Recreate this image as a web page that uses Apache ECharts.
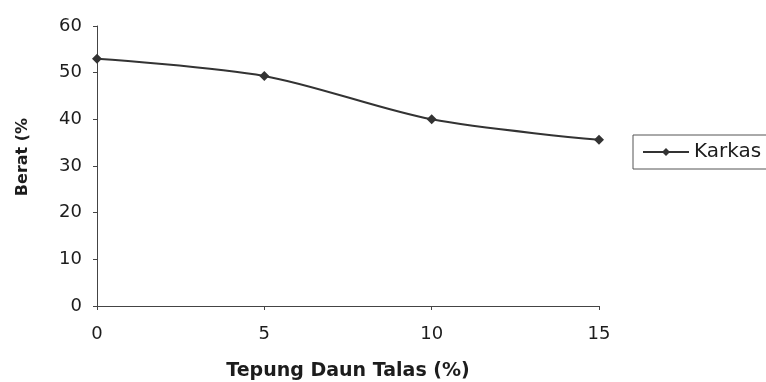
<!DOCTYPE html>
<html>
<head>
<meta charset="utf-8">
<script src="https://cdn.jsdelivr.net/npm/echarts@6/dist/echarts.min.js"></script>
<style>
  html, body { margin: 0; padding: 0; background: #fff; }
  #chart { width: 766px; height: 382px; }
</style>
</head>
<body>
<div id="chart"></div>
<script>
const categories = ['0', '5', '10', '15']
const karkas = [53.0, 49.3, 40.0, 35.6]
const yTicks = { min: 0, max: 60, interval: 10 }

const ink = '#1c1c1c'
const font = 'DejaVu Sans, Arial, sans-serif'

const chart = echarts.init(document.getElementById('chart'))
chart.setOption({
  backgroundColor: '#fff',
  animation: false,
  grid: { left: 97, right: 167, top: 26, bottom: 76, outerBoundsMode: 'none' },
  legend: {
    data: ['Karkas'],
    left: 633,
    top: 135,
    orient: 'vertical',
    padding: [7, 40, 7, 9],
    borderColor: '#555',
    borderWidth: 1,
    itemWidth: 46,
    itemHeight: 10,
    itemGap: 5,
    textStyle: { color: ink, fontSize: 20, fontFamily: font }
  },
  xAxis: {
    type: 'category',
    boundaryGap: false,
    data: categories,
    name: 'Tepung Daun Talas (%)',
    nameLocation: 'middle',
    nameGap: 56,
    nameTextStyle: { color: ink, fontSize: 19, fontWeight: 'bold', fontFamily: font },
    axisLine: { lineStyle: { color: '#444', width: 1 } },
    axisTick: { alignWithLabel: true, length: 4, lineStyle: { color: '#444' } },
    axisLabel: { color: ink, fontSize: 18, margin: 19, fontFamily: font },
    splitLine: { show: false }
  },
  yAxis: {
    type: 'value',
    min: yTicks.min,
    max: yTicks.max,
    interval: yTicks.interval,
    name: 'Berat (%',
    nameLocation: 'middle',
    nameRotate: 90,
    nameGap: 66,
    nameTextStyle: { color: ink, fontSize: 16, fontWeight: 'bold', fontFamily: font, padding: [0, 0, 0, 18] },
    axisLine: { show: true, lineStyle: { color: '#444', width: 1 } },
    axisTick: { show: true, length: 4, lineStyle: { color: '#444' } },
    axisLabel: { color: ink, fontSize: 18, margin: 15, fontFamily: font },
    splitLine: { show: false }
  },
  series: [
    {
      name: 'Karkas',
      type: 'line',
      data: karkas,
      smooth: 0.3,
      symbol: 'diamond',
      symbolSize: 10,
      itemStyle: { color: '#333' },
      lineStyle: { color: '#333', width: 2 }
    }
  ]
})
</script>
</body>
</html>
